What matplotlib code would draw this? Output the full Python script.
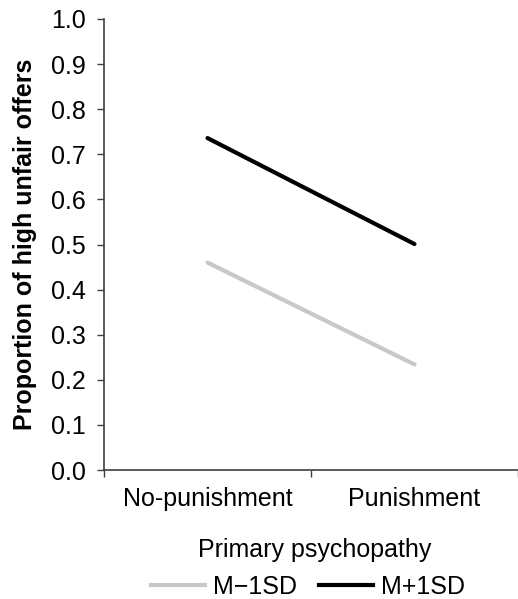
import matplotlib
matplotlib.use("Agg")
import matplotlib.pyplot as plt
from matplotlib.lines import Line2D

plt.rcParams['font.family'] = ['Liberation Sans', 'DejaVu Sans']

categories = ["No-punishment", "Punishment"]
low_vals = [0.46, 0.234]    # M-1SD
high_vals = [0.736, 0.501]  # M+1SD
yticks = [0.0, 0.1, 0.2, 0.3, 0.4, 0.5, 0.6, 0.7, 0.8, 0.9, 1.0]

FS = 18
fig = plt.figure(figsize=(5.18, 5.99), dpi=100)
ax = fig.add_axes([104/518, 1-470/599, 1-104/518, (470-19)/599])

x = list(range(len(categories)))
ax.plot(x, low_vals, color="#c8c8c8", lw=3, solid_capstyle="round", label="M\u22121SD")
ax.plot(x, high_vals, color="black", lw=3, solid_capstyle="round", label="M+1SD")

ax.set_ylim(0, 1.0)
ax.set_xlim(-0.5, -0.5 + (518-104)/211)
ax.set_yticks(yticks)
ax.set_yticklabels([f"{v:.1f}" for v in yticks], fontsize=FS)
ax.set_xticks(x)
ax.set_xticklabels(categories, fontsize=FS)
ax.tick_params(axis='x', which='major', length=0, pad=12)
ax.set_xticks([-0.5, 0.5, 1.5], minor=True)
ax.tick_params(axis='x', which='minor', length=5, width=1, color="#404040", direction='out')
ax.tick_params(axis='y', length=5, width=1, color="#404040", direction='out', pad=8)

for s in ["top", "right"]:
    ax.spines[s].set_visible(False)
for s in ["left", "bottom"]:
    ax.spines[s].set_color("#404040")
    ax.spines[s].set_linewidth(1.2)

ax.set_ylabel("Proportion of high unfair offers", fontsize=FS, fontweight="bold")
ax.yaxis.set_label_coords(-(104-37)/414, 0.5)

fig.text(315/518, 1-550/599, "Primary psychopathy", ha="center", va="center", fontsize=FS)
handles = [Line2D([], [], color="#c8c8c8", lw=3), Line2D([], [], color="black", lw=3)]
fig.legend(handles, ["M\u22121SD", "M+1SD"], loc="center", bbox_to_anchor=(308/518, 1-587/599),
           ncol=2, frameon=False, fontsize=FS, handlelength=2.16, handletextpad=0.3,
           columnspacing=0.9, borderpad=0, borderaxespad=0)

fig.savefig("out.png", dpi=100)
